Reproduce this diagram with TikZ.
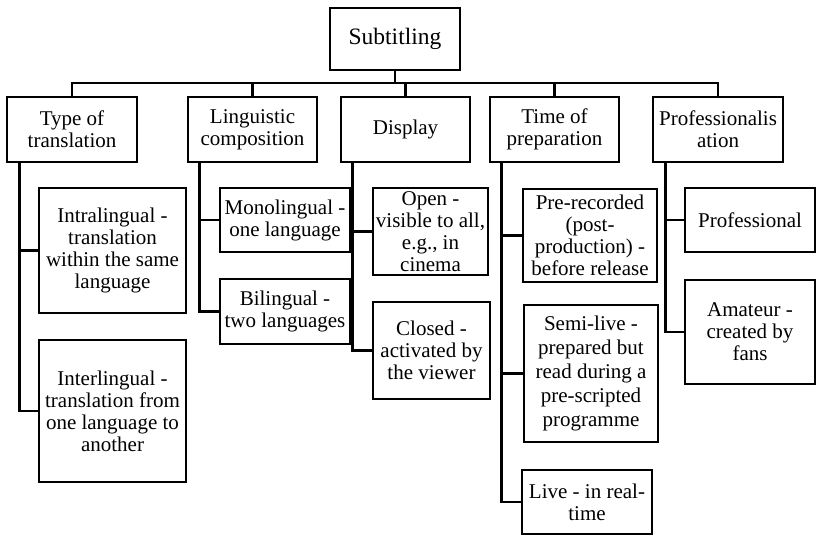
\documentclass[tikz,border=0pt]{standalone}
\usepackage{fontspec}
\setmainfont{Liberation Serif}
\begin{document}
\begin{tikzpicture}[x=1pt,y=-1pt,
  box/.style={draw, line width=2.6pt, align=center, inner sep=1pt,
    font=\fontsize{21}{22}\selectfont},
  link/.style={line width=2.6pt}]
\useasboundingbox (0,0) rectangle (818,535);
% root
\node[box, minimum width=130pt, minimum height=62pt, font=\fontsize{23.5}{25}\selectfont] (root) at (395,39) {Subtitling};
% level 1
\node[box, minimum width=130pt, minimum height=65pt] (t1) at (72,129.5) {Type of\\translation};
\node[box, minimum width=129pt, minimum height=65pt] (t2) at (252.5,129.5) {Linguistic\\composition};
\node[box, minimum width=129pt, minimum height=65pt] (t3) at (405.5,129.5) {Display};
\node[box, minimum width=129pt, minimum height=65pt] (t4) at (554.5,129.5) {Time of\\preparation};
\node[box, minimum width=130pt, minimum height=65pt] (t5) at (718,129.5) {Professionalis\\ation};
% children
\node[box, minimum width=147pt, minimum height=125pt] (a1) at (112.5,250.5) {Intralingual -\\translation\\within the same\\language};
\node[box, minimum width=147pt, minimum height=142pt] (a2) at (112.5,411) {Interlingual -\\translation from\\one language to\\another};
\node[box, minimum width=130pt, minimum height=64pt] (b1) at (285,220) {Monolingual -\\one language};
\node[box, minimum width=130pt, minimum height=65pt] (b2) at (285,311.5) {Bilingual -\\two languages};
\node[box, minimum width=115pt, minimum height=87pt] (c1) at (430.5,231.5) {Open -\\visible to all,\\e.g., in\\cinema};
\node[box, minimum width=117pt, minimum height=97pt] (c2) at (431.5,350.5) {Closed -\\activated by\\the viewer};
\node[box, minimum width=134pt, minimum height=93pt] (d1) at (590,235.5) {Pre-recorded\\(post-\\production) -\\before release};
\node[box, minimum width=134pt, minimum height=137pt, font=\fontsize{21}{24}\selectfont] (d2) at (591,373.5) {Semi-live -\\prepared but\\read during a\\pre-scripted\\programme};
\node[box, minimum width=130pt, minimum height=64pt] (d3) at (587,502) {Live - in real-\\time};
\node[box, minimum width=130pt, minimum height=64pt] (e1) at (750,220) {Professional};
\node[box, minimum width=130pt, minimum height=104pt] (e2) at (750,332) {Amateur -\\created by\\fans};
% bus
\coordinate (bus) at (395,83);
\draw[link] (root.south) -- (bus);
\foreach \t in {t1,t2,t3,t4,t5} \draw[link] (bus) -| (\t.north);
% trunks
\draw[link] ([xshift=14pt]t1.south west) |- (a1.west);
\draw[link] ([xshift=14pt]t1.south west) |- (a2.west);
\draw[link] ([xshift=13pt]t2.south west) |- (b1.west);
\draw[link] ([xshift=13pt]t2.south west) |- (b2.west);
\draw[link] ([xshift=13pt]t3.south west) |- (c1.west);
\draw[link] ([xshift=13pt]t3.south west) |- (c2.west);
\draw[link] ([xshift=13pt]t4.south west) |- (d1.west);
\draw[link] ([xshift=13pt]t4.south west) |- (d2.west);
\draw[link] ([xshift=13pt]t4.south west) |- (d3.west);
\draw[link] ([xshift=14pt]t5.south west) |- (e1.west);
\draw[link] ([xshift=14pt]t5.south west) |- (e2.west);
\end{tikzpicture}
\end{document}
